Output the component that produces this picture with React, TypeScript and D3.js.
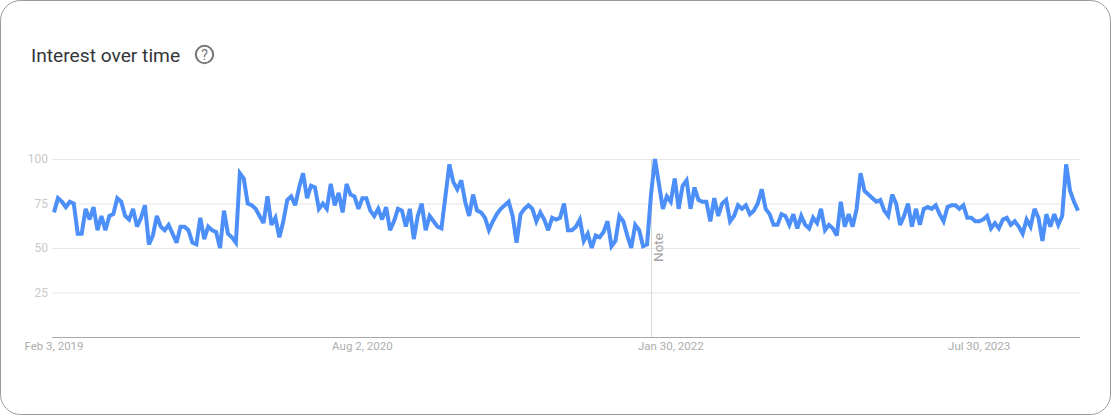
import React from "react";
import * as d3 from "d3";

const interest = [
  70,78,76,73,76,75,58,58,72,66,73,60,68,60,68,69,78,76,68,66,72,62,67,74,52,57,68,62,60,63,
  58,53,62,62,60,53,52,67,55,62,60,59,50,71,58,56,53,92,89,75,74,72,68,64,79,63,67,56,65,77,
  79,74,84,92,78,85,84,72,75,72,86,74,81,70,86,80,79,72,78,78,71,68,72,66,73,60,65,72,71,62,
  72,55,68,75,60,68,65,62,61,79,97,87,83,88,76,68,80,71,70,67,60,65,69,72,74,76,68,53,69,72,
  74,72,65,70,66,60,67,66,67,75,60,60,62,66,54,58,50,57,56,59,65,51,54,68,65,57,50,63,60,51,
  52,80,100,86,72,79,76,89,72,85,88,72,84,77,76,76,65,78,68,75,77,65,68,74,72,74,69,71,75,83,
  72,69,63,63,69,68,63,69,61,68,63,61,67,64,72,60,63,61,57,76,62,69,62,72,92,82,80,78,76,77,
  71,68,80,75,63,68,75,62,72,63,72,73,72,74,69,65,73,74,74,72,74,67,67,65,65,66,68,61,64,61,
  66,67,63,65,62,58,66,62,72,67,54,69,62,69,63,68,97,82,76,71,
];
const yTicks = [25, 50, 75, 100];
const xTickWeeks = [0, 78, 156, 234];
const xTickLabels = ["Feb 3, 2019", "Aug 2, 2020", "Jan 30, 2022", "Jul 30, 2023"];
const noteWeek = 151;
const noteLabel = "Note";
const title = "Interest over time";

const font = "Roboto, sans-serif";

export default function App() {
  const x = d3.scaleLinear().domain([0, interest.length - 1]).range([54, 1078]);
  const y = d3.scaleLinear().domain([0, 100]).range([337, 159]);
  const line = d3.line<number>().x((_, i) => x(i)).y((d) => y(d));
  const noteX = Math.round(x(noteWeek));
  return (
    <svg
      width={1111}
      height={415}
      style={{ position: "absolute", left: 0, top: 0, background: "#fff", display: "block" }}
    >
      <rect x={0.5} y={0.5} width={1110} height={414} rx={20} fill="#fff" stroke="#9a9a9a" />
      <text x={31} y={62} fontFamily={font} fontSize={19.2} fill="#333537">{title}</text>
      <g>
        <circle cx={204.5} cy={54.5} r={8.7} fill="none" stroke="#757575" strokeWidth={2} />
        <text x={204.5} y={59.5} textAnchor="middle" fontFamily={font} fontSize={14} fill="#757575">?</text>
      </g>
      {yTicks.map((t) => (
        <g key={t}>
          <line x1={52} x2={1080} y1={y(t) + 0.5} y2={y(t) + 0.5} stroke="#e6e6e6" />
          <text x={48} y={y(t) + 4} textAnchor="end" fontFamily={font} fontSize={12} fill="#c9c9c9">{t}</text>
        </g>
      ))}
      <line x1={noteX + 0.5} x2={noteX + 0.5} y1={159} y2={337} stroke="#d9d9d9" />
      <text
        transform={`translate(${noteX + 12},262) rotate(-90)`}
        fontFamily={font}
        fontSize={13.5}
        fill="#a3a3a3"
      >{noteLabel}</text>
      <path d={line(interest) ?? ""} fill="none" stroke="#4c8ff8" strokeWidth={4} strokeLinejoin="miter" strokeMiterlimit={3} />
      <line x1={52} x2={1080} y1={337.5} y2={337.5} stroke="#a8a8a8" />
      {xTickWeeks.map((w, i) => (
        <text key={w} x={x(w)} y={350} textAnchor="middle" fontFamily={font} fontSize={11.5} fill="#adadad">{xTickLabels[i]}</text>
      ))}
    </svg>
  );
}
